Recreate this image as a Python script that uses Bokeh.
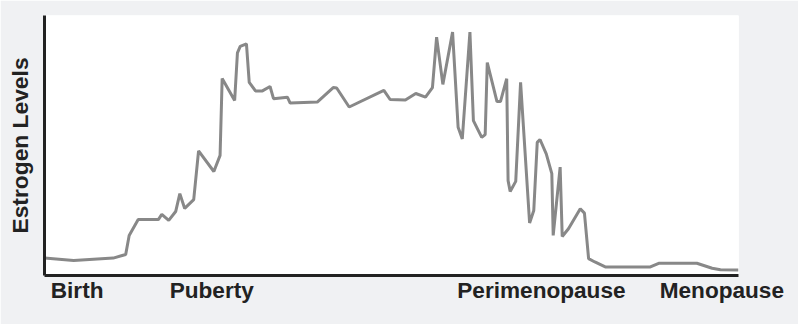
from bokeh.plotting import figure
from bokeh.models import BoxAnnotation, FixedTicker, CustomJSTickFormatter, Range1d
from bokeh.embed import file_html
from bokeh.resources import INLINE

# Position along the life course (0 = birth, 100 = well after menopause)
life_stage = [
    0.0, 4.2, 9.9, 11.7, 12.2, 13.5, 16.4, 16.9, 17.9, 18.9,
    19.5, 20.2, 21.5, 22.2, 24.4, 25.3, 25.6, 27.4, 27.8, 28.2,
    29.1, 29.5, 30.4, 31.4, 32.5, 33.0, 35.0, 35.4, 39.3, 41.6,
    42.1, 43.9, 48.9, 49.8, 52.0, 53.5, 54.9, 55.9, 56.5, 57.4,
    58.8, 59.6, 60.2, 61.3, 61.8, 63.0, 63.5, 63.8, 65.2, 65.7,
    66.6, 66.8, 67.1, 67.9, 68.6, 69.9, 70.5, 71.0, 71.4, 72.3,
    73.1, 73.3, 74.3, 74.6, 75.5, 77.2, 77.8, 78.4, 79.3, 80.8,
    87.3, 88.5, 94.0, 96.2, 97.4, 100.0,
]

# Relative estrogen level (arbitrary scale, 0-100)
estrogen_level = [
    6.7, 5.8, 6.7, 8.1, 15.4, 21.5, 21.5, 23.5, 21.2, 24.6,
    31.5, 25.8, 29.2, 47.9, 40.0, 46.2, 75.8, 67.3, 85.6, 88.1,
    89.1, 74.3, 71.0, 71.0, 72.7, 68.0, 68.6, 66.3, 66.7, 72.3,
    72.1, 64.8, 71.2, 67.7, 67.5, 70.0, 68.6, 72.3, 91.7, 73.5,
    93.6, 57.0, 52.5, 93.6, 59.6, 53.1, 54.2, 81.9, 66.9, 66.9,
    75.7, 36.5, 32.3, 36.2, 74.3, 20.2, 25.0, 51.2, 52.3, 46.8,
    39.2, 15.4, 41.7, 15.0, 18.0, 25.7, 24.0, 6.5, 5.2, 3.3,
    3.3, 4.7, 4.7, 2.8, 2.2, 2.1,
]

# Life stages marked along the horizontal axis
stage_positions = [4.7, 24.1, 71.6, 97.6]
stage_names = ["Birth", "Puberty", "Perimenopause", "Menopause"]

FONT = "Liberation Sans"
INK = "#222222"

p = figure(
    width=798, height=324,
    x_range=Range1d(0, 100), y_range=Range1d(0, 100),
    min_border_left=44, min_border_right=60,
    min_border_top=15, min_border_bottom=49,
    output_backend="svg", toolbar_location=None,
)
p.border_fill_color = "#f0f1f3"
p.background_fill_color = "white"
p.outline_line_color = None
p.grid.visible = False

# white card behind the chart and its labels
p.add_layout(BoxAnnotation(
    left=11, right=785, top=15, bottom=309,
    left_units="canvas", right_units="canvas",
    top_units="canvas", bottom_units="canvas",
    fill_color="white", fill_alpha=1.0, line_color=None, level="underlay",
))

# vertical axis: a plain line with its title
yax = p.yaxis[0]
yax.ticker = FixedTicker(ticks=[])
yax.axis_label = "Estrogen Levels"
yax.axis_label_text_font = FONT
yax.axis_label_text_font_style = "bold"
yax.axis_label_text_font_size = "22.8px"
yax.axis_label_text_color = INK
yax.axis_label_standoff = 12
yax.axis_line_width = 3
yax.axis_line_color = INK
yax.major_tick_line_color = None
yax.minor_tick_line_color = None

# horizontal axis: life stage names
xax = p.xaxis[0]
xax.ticker = FixedTicker(ticks=stage_positions)
xax.formatter = CustomJSTickFormatter(args=dict(names=stage_names), code="return names[index]")
xax.major_label_text_font = FONT
xax.major_label_text_font_style = "bold"
xax.major_label_text_font_size = "22.6px"
xax.major_label_text_color = INK
xax.major_label_standoff = 2
xax.major_tick_in = 0
xax.major_tick_out = 0
xax.major_tick_line_color = None
xax.minor_tick_line_color = None
xax.axis_line_width = 3
xax.axis_line_color = INK

p.line(life_stage, estrogen_level, line_color="#888888", line_width=3)

open("out.html", "w").write(file_html(p, INLINE))
